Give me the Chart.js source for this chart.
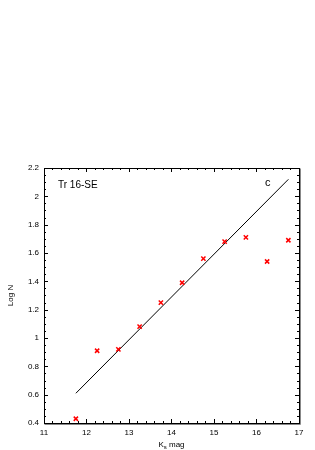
<!DOCTYPE html>
<html>
<head>
<meta charset="utf-8">
<script src="https://cdn.jsdelivr.net/npm/chart.js@4.4.0/dist/chart.umd.min.js"></script>
<style>
  html, body { margin: 0; padding: 0; background: #fff; }
  #wrap { width: 315px; height: 450px; }
</style>
</head>
<body>
<div id="wrap"><canvas id="grafico" width="315" height="450"></canvas></div>
<script>
// datos
const magK = [11.75, 12.25, 12.75, 13.25, 13.75, 14.25, 14.75, 15.25, 15.75, 16.25, 16.75];
const logN = [0.43, 0.91, 0.92, 1.08, 1.25, 1.39, 1.56, 1.68, 1.71, 1.54, 1.69];
const ajusteX = [11.75, 16.75];
const ajusteY = [0.61, 2.12];
const xTicks = [11, 12, 13, 14, 15, 16, 17];
const yTicks = [0.4, 0.6, 0.8, 1, 1.2, 1.4, 1.6, 1.8, 2, 2.2];

const FUENTE = '"Liberation Sans", Arial, sans-serif';

// marco, ticks hacia dentro y textos
const marcoPlugin = {
  id: 'marco',
  afterDraw(chart) {
    const ctx = chart.ctx;
    const a = chart.chartArea;
    const sx = chart.scales.x, sy = chart.scales.y;
    ctx.save();
    ctx.strokeStyle = '#000';
    ctx.lineWidth = 1;
    ctx.beginPath();
    // ticks eje x (arriba y abajo)
    for (let v = 11; v <= 17.0001; v += 0.2) {
      const px = Math.round(sx.getPixelForValue(v)) + 0.5;
      const mayor = Math.abs(v - Math.round(v)) < 0.01;
      const l = mayor ? 4 : 2;
      ctx.moveTo(px, a.bottom); ctx.lineTo(px, a.bottom - l);
      ctx.moveTo(px, a.top); ctx.lineTo(px, a.top + l);
    }
    // ticks eje y (izq y der)
    for (let v = 0.4; v <= 2.2001; v += 0.05) {
      const py = Math.round(sy.getPixelForValue(v)) + 0.5;
      const mayor = Math.abs(v * 5 - Math.round(v * 5)) < 0.01;
      const l = mayor ? 4 : 2;
      ctx.moveTo(a.left, py); ctx.lineTo(a.left + l, py);
      ctx.moveTo(a.right, py); ctx.lineTo(a.right - l, py);
    }
    ctx.stroke();
    const L = Math.round(a.left) + 0.5, T = Math.round(a.top) + 0.5;
    const R = Math.round(a.right) + 0.5, B = Math.round(a.bottom) + 0.5;
    ctx.strokeRect(L, T, R - L, B - T);
    // sombra gris a la derecha y abajo
    ctx.strokeStyle = '#888';
    ctx.beginPath();
    ctx.moveTo(R + 1, T); ctx.lineTo(R + 1, B + 1);
    ctx.moveTo(L, B + 1); ctx.lineTo(R + 1, B + 1);
    ctx.stroke();

    ctx.fillStyle = '#000';
    ctx.font = '10px ' + FUENTE;
    ctx.textAlign = 'left';
    ctx.textBaseline = 'alphabetic';
    ctx.fillText('Tr 16-SE', 58, 188);
    ctx.font = '11px ' + FUENTE;
    ctx.fillText('c', 265, 186);

    // titulo eje x con subindice
    ctx.font = '8px ' + FUENTE;
    const cx = (a.left + a.right) / 2;
    const wK = ctx.measureText('K').width;
    ctx.font = '6px ' + FUENTE;
    const wS = ctx.measureText('s').width;
    ctx.font = '8px ' + FUENTE;
    const wM = ctx.measureText(' mag').width;
    let x0 = cx - (wK + wS + wM) / 2;
    ctx.fillText('K', x0, 447);
    ctx.font = '6px ' + FUENTE;
    ctx.fillText('s', x0 + wK, 449);
    ctx.font = '8px ' + FUENTE;
    ctx.fillText(' mag', x0 + wK + wS, 447);

    // titulo eje y
    ctx.translate(13, (a.top + a.bottom) / 2);
    ctx.rotate(-Math.PI / 2);
    ctx.textAlign = 'center';
    ctx.fillText('Log N', 0, 0);
    ctx.restore();
  }
};

const ctx = document.getElementById('grafico').getContext('2d');
new Chart(ctx, {
  type: 'scatter',
  data: {
    datasets: [
      {
        label: 'Log N',
        data: magK.map((m, i) => ({ x: m, y: logN[i] })),
        pointStyle: 'crossRot',
        pointRadius: 3,
        borderColor: '#ff0000',
        borderWidth: 1.5,
        showLine: false
      },
      {
        label: 'ajuste',
        data: ajusteX.map((m, i) => ({ x: m, y: ajusteY[i] })),
        showLine: true,
        borderColor: '#000',
        borderWidth: 1,
        pointRadius: 0,
        fill: false
      }
    ]
  },
  options: {
    responsive: false,
    animation: false,
    layout: { padding: { left: 0, right: 16, top: 168, bottom: 0 } },
    plugins: { legend: { display: false }, tooltip: { enabled: false } },
    scales: {
      x: {
        type: 'linear', min: 11, max: 17,
        afterBuildTicks: s => { s.ticks = xTicks.map(v => ({ value: v })); },
        afterFit: s => { s.height = 27; },
        grid: { display: false, drawTicks: false },
        border: { display: false },
        ticks: { padding: 5, color: '#000', font: { family: FUENTE, size: 8 }, callback: v => String(+v.toFixed(1)) }
      },
      y: {
        type: 'linear', min: 0.4, max: 2.2,
        afterBuildTicks: s => { s.ticks = yTicks.map(v => ({ value: v })); },
        afterFit: s => { s.width = 44; },
        grid: { display: false, drawTicks: false },
        border: { display: false },
        ticks: { padding: 5, color: '#000', font: { family: FUENTE, size: 8 }, callback: v => String(+v.toFixed(1)) }
      }
    }
  },
  plugins: [marcoPlugin]
});
</script>
</body>
</html>
